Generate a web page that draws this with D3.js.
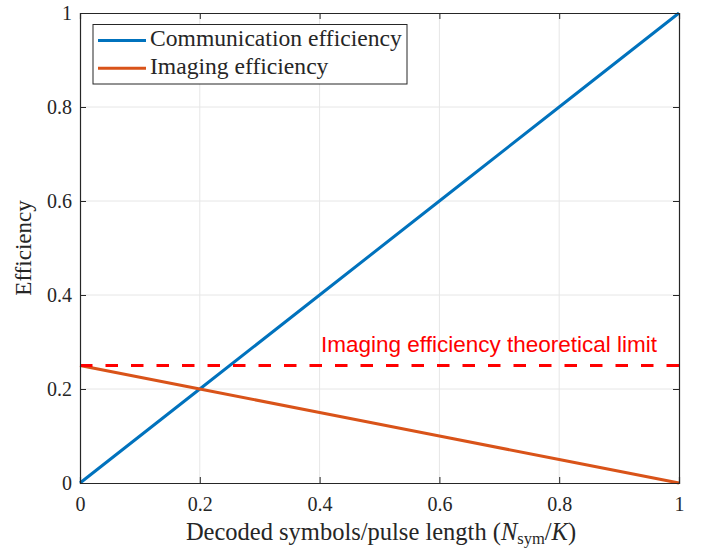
<!DOCTYPE html>
<html>
<head>
<meta charset="utf-8">
<script src="https://cdn.jsdelivr.net/npm/d3@7/dist/d3.min.js"></script>
<style>
  html, body { margin: 0; padding: 0; background: #fff; }
  svg { display: block; }
  text { font-family: "Liberation Serif", "Times New Roman", serif; fill: #262626; }
</style>
</head>
<body>
<svg id="chart" width="704" height="550"></svg>
<script>
// Ratio of decoded symbols to pulse length
const xValues = [0, 0.2, 0.4, 0.6, 0.8, 1];
// Communication efficiency grows linearly with the ratio
const commEfficiency = [0, 0.2, 0.4, 0.6, 0.8, 1];
// Imaging efficiency falls from the 0.25 limit to zero
const imagingEfficiency = [0.25, 0.2, 0.15, 0.1, 0.05, 0];
// Theoretical upper bound on imaging efficiency
const imagingLimit = 0.25;

const xTicks = [0, 0.2, 0.4, 0.6, 0.8, 1];
const yTicks = [0, 0.2, 0.4, 0.6, 0.8, 1];
const xTickLabels = ["0", "0.2", "0.4", "0.6", "0.8", "1"];
const yTickLabels = ["0", "0.2", "0.4", "0.6", "0.8", "1"];

const seriesNames = ["Communication efficiency", "Imaging efficiency"];
const seriesColors = ["#0072BD", "#D95319"];

const svg = d3.select("#chart");
const plotLeft = 80, plotRight = 679, plotTop = 13, plotBottom = 483;

const x = d3.scaleLinear().domain([0, 1]).range([plotLeft, plotRight]);
const y = d3.scaleLinear().domain([0, 1]).range([plotBottom, plotTop]);

// grid
const grid = svg.append("g");
grid.selectAll("line.gx").data(xTicks.slice(1, -1)).join("line")
  .attr("x1", d => x(d)).attr("x2", d => x(d))
  .attr("y1", plotTop).attr("y2", plotBottom)
  .attr("stroke", "#e6e6e6").attr("stroke-width", 1);
grid.selectAll("line.gy").data(yTicks.slice(1, -1)).join("line")
  .attr("y1", d => y(d)).attr("y2", d => y(d))
  .attr("x1", plotLeft).attr("x2", plotRight)
  .attr("stroke", "#e6e6e6").attr("stroke-width", 1);

// data lines
const line = d3.line().x((d, i) => x(xValues[i])).y(d => y(d));
const series = [commEfficiency, imagingEfficiency];
series.forEach((vals, k) => {
  svg.append("path")
    .attr("d", line(vals))
    .attr("fill", "none")
    .attr("stroke", seriesColors[k])
    .attr("stroke-width", 3);
});

// theoretical limit
svg.append("line")
  .attr("x1", x(0)).attr("x2", x(1))
  .attr("y1", y(imagingLimit)).attr("y2", y(imagingLimit))
  .attr("stroke", "#ff0000").attr("stroke-width", 2.8)
  .attr("stroke-dasharray", "12.5,13");
svg.append("text")
  .attr("x", 321).attr("y", 351.5)
  .style("font-family", "'Liberation Sans', Arial, sans-serif")
  .style("fill", "#ff0000")
  .style("font-size", "22.5px")
  .text("Imaging efficiency theoretical limit");

// axes (ticks inward, boxed)
const axisColor = "#262626";
const xAxis = d3.axisBottom(x).tickValues(xTicks).tickSize(-6).tickPadding(14)
  .tickFormat((d, i) => xTickLabels[i]);
const yAxis = d3.axisLeft(y).tickValues(yTicks).tickSize(-6).tickPadding(8)
  .tickFormat((d, i) => yTickLabels[i]);
const xTop = d3.axisTop(x).tickValues(xTicks).tickSize(-6).tickFormat("");
const yRight = d3.axisRight(y).tickValues(yTicks).tickSize(-6).tickFormat("");

function style(g) {
  g.select(".domain").attr("stroke", axisColor).attr("stroke-width", 1.2);
  g.selectAll(".tick line").attr("stroke", axisColor).attr("stroke-width", 1);
  g.selectAll(".tick text").style("font-size", "20px").style("fill", axisColor)
    .style("font-family", "'Liberation Serif', serif");
}
svg.append("g").attr("transform", `translate(0,${plotBottom})`).call(xAxis).call(style);
svg.append("g").attr("transform", `translate(${plotLeft},0)`).call(yAxis).call(style);
svg.append("g").attr("transform", `translate(0,${plotTop})`).call(xTop).call(style);
svg.append("g").attr("transform", `translate(${plotRight},0)`).call(yRight).call(style);

// axis labels
const xl = svg.append("text")
  .attr("x", 381).attr("y", 539.5)
  .attr("text-anchor", "middle")
  .style("font-size", "24.5px");
xl.append("tspan").text("Decoded symbols/pulse length (");
xl.append("tspan").style("font-style", "italic").text("N");
xl.append("tspan").attr("dy", 4).style("font-size", "16.5px").text("sym");
xl.append("tspan").attr("dy", -4).text("/");
xl.append("tspan").style("font-style", "italic").text("K");
xl.append("tspan").text(")");

svg.append("text")
  .attr("transform", `translate(31,${(plotTop + plotBottom) / 2}) rotate(-90)`)
  .attr("text-anchor", "middle")
  .style("font-size", "23px")
  .text("Efficiency");

// legend
const lg = svg.append("g");
lg.append("rect")
  .attr("x", 93).attr("y", 24.5).attr("width", 314).attr("height", 59.5)
  .attr("fill", "#fff").attr("stroke", axisColor).attr("stroke-width", 1);
seriesNames.forEach((name, k) => {
  const ly = 40.5 + k * 27.7;
  lg.append("line")
    .attr("x1", 98).attr("x2", 146).attr("y1", ly).attr("y2", ly)
    .attr("stroke", seriesColors[k]).attr("stroke-width", 3);
  lg.append("text")
    .attr("x", 150).attr("y", ly + 5.5)
    .style("font-size", "23.6px")
    .text(name);
});
</script>
</body>
</html>
